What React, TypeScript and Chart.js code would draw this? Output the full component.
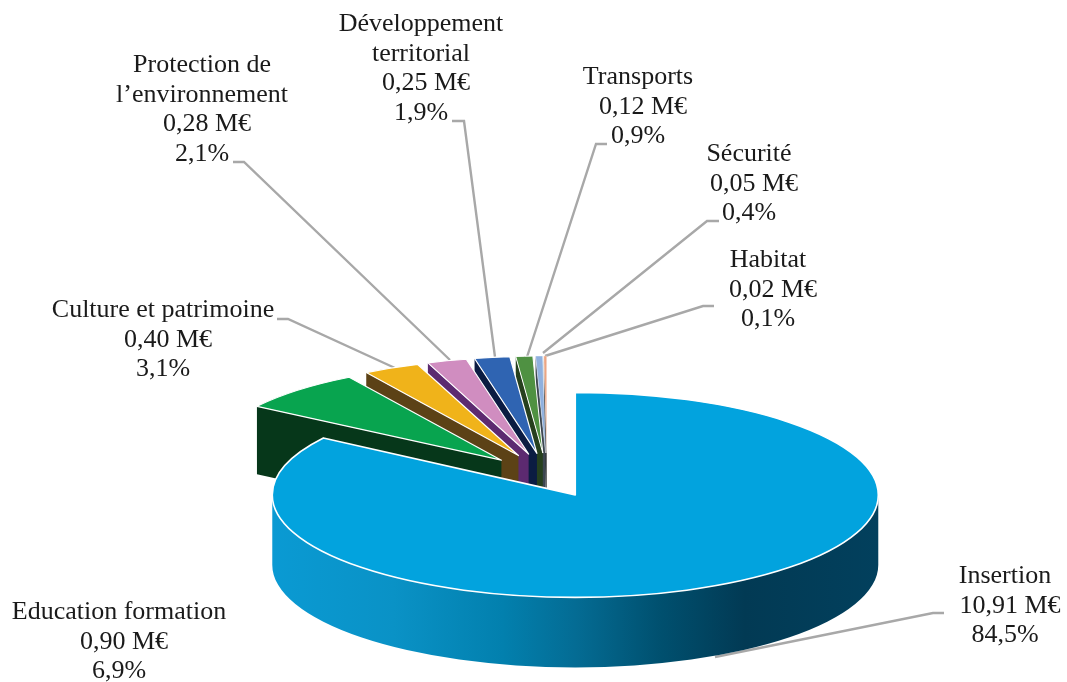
import React, { useEffect, useRef } from "react";
import { Chart, registerables } from "chart.js";

Chart.register(...registerables);

// ---- data ----
const categories = ["Insertion", "Education formation", "Culture et patrimoine", "Protection de l’environnement", "Développement territorial", "Transports", "Sécurité", "Habitat"];
const valuesMEuro = [10.91, 0.9, 0.4, 0.28, 0.25, 0.12, 0.05, 0.02];
const amountLabels = ["10,91 M€", "0,90 M€", "0,40 M€", "0,28 M€", "0,25 M€", "0,12 M€", "0,05 M€", "0,02 M€"];
const percentLabels = ["84,5%", "6,9%", "3,1%", "2,1%", "1,9%", "0,9%", "0,4%", "0,1%"];
const nameLines = [["Insertion"], ["Education formation"], ["Culture et patrimoine"], ["Protection de", "l’environnement"], ["Développement", "territorial"], ["Transports"], ["Sécurité"], ["Habitat"]];

// ---- styles ----
const faceColors = ["#02a3de", "#08a44f", "#f0b31a", "#d08dc0", "#2f64b2", "#4f9142", "#8fb0de", "#eba583"];
const sideColors = ["#02405d", "#06371a", "#5c4216", "#5c2a70", "#0b1c42", "#26401e", "#3c4650", "#2e2e2e"];
const insertionSideStops: [number, string][] = [[0, "#0a9ad3"], [0.2, "#0a92c6"], [0.38, "#0280ae"], [0.5, "#046c94"], [0.64, "#00506f"], [0.78, "#023a54"], [1, "#02405d"]];
const rimWidths = [1.6, 1.2, 1.2, 1.2, 1.2, 1, 0.4, 0.3];

// ---- 3D layout ----
const pieOrigin = { x: 547, y: 479 };
const explodeX = [60, 66, 66, 66, 66, 66, 66, 66];
const explodeY = [18, 26, 26, 26, 26, 26, 26, 26];
const radiusX = [303, 294, 294, 294, 294, 294, 294, 294];
const radiusY = [102.5, 97, 97, 97, 97, 97, 97, 97];
const depth = [70, 68, 68, 68, 68, 68, 68, 68];

// ---- labels: centre x, first line y ----
const labelX = [1005, 119, 163, 202, 421, 638, 749, 768];
const labelY = [576, 612, 310, 65, 24, 77, 154, 260];
const lineGap = 29.8;
const amountShift = 5;
const leaders: [number, number][][] = [
  [[944, 613], [933, 613], [715, 657]],
  [],
  [[277, 319], [288, 319], [395, 368]],
  [[233, 162], [244, 162], [450, 360]],
  [[452, 121], [464, 121], [495, 357]],
  [[607, 144], [596, 144], [527, 357]],
  [[719, 221], [707, 221], [543, 353]],
  [[714, 306], [703, 306], [545, 356]],
];

function geometry(arc: any, i: number) {
  const mid = (arc.startAngle + arc.endAngle) / 2;
  return {
    cx: pieOrigin.x + explodeX[i] * Math.cos(mid),
    cy: pieOrigin.y + explodeY[i] * Math.sin(mid),
    rx: radiusX[i],
    ry: radiusY[i],
    d: depth[i],
  };
}

const pie3d = {
  id: "pie3d",
  beforeDatasetsDraw(chart: any) {
    const ctx: CanvasRenderingContext2D = chart.ctx;
    const arcs = chart.getDatasetMeta(0).data;

    ctx.save();
    ctx.strokeStyle = "#a8a8a8";
    ctx.lineWidth = 2.4;
    leaders.forEach((pts) => {
      if (!pts.length) return;
      ctx.beginPath();
      pts.forEach(([x, y], k) => (k ? ctx.lineTo(x, y) : ctx.moveTo(x, y)));
      ctx.stroke();
    });
    ctx.restore();

    for (let i = arcs.length - 1; i >= 0; i--) {
      const arc = arcs[i];
      const { cx, cy, rx, ry, d } = geometry(arc, i);
      const a0 = arc.startAngle;
      const a1 = arc.endAngle;

      ctx.save();
      if (i === 0) {
        // rounded front wall of the large slice
        const g = ctx.createLinearGradient(cx - rx, 0, cx + rx, 0);
        insertionSideStops.forEach(([p, c]) => g.addColorStop(p, c));
        ctx.fillStyle = g;
        ctx.beginPath();
        ctx.ellipse(cx, cy, rx, ry, 0, 0, Math.PI, false);
        ctx.lineTo(cx - rx, cy + d);
        ctx.ellipse(cx, cy + d, rx, ry, 0, Math.PI, 0, true);
        ctx.closePath();
        ctx.fill();
      } else {
        // cut wall seen along the slice's left edge
        const ex = cx + rx * Math.cos(a0);
        const ey = cy + ry * Math.sin(a0);
        ctx.fillStyle = sideColors[i];
        ctx.beginPath();
        ctx.moveTo(cx, cy);
        ctx.lineTo(ex, ey);
        ctx.lineTo(ex, ey + d);
        ctx.lineTo(cx, cy + d);
        ctx.closePath();
        ctx.fill();
      }
      ctx.restore();

      // top face, drawn by the library's arc element
      ctx.save();
      ctx.translate(cx, cy);
      ctx.scale(rx / arc.outerRadius, ry / arc.outerRadius);
      ctx.translate(-arc.x, -arc.y);
      arc.draw(ctx);
      ctx.restore();

      // white rim
      ctx.save();
      ctx.strokeStyle = "#ffffff";
      ctx.lineWidth = rimWidths[i];
      ctx.lineJoin = "round";
      ctx.beginPath();
      ctx.moveTo(cx, cy);
      ctx.ellipse(cx, cy, rx, ry, 0, a0, a1, false);
      ctx.closePath();
      ctx.stroke();
      ctx.restore();
    }
    return false;
  },
  afterDraw(chart: any) {
    const ctx: CanvasRenderingContext2D = chart.ctx;
    ctx.save();
    ctx.font = '26px "Liberation Serif"';
    ctx.fillStyle = "#1a1a1a";
    ctx.textAlign = "center";
    ctx.textBaseline = "middle";
    categories.forEach((_, i) => {
      let y = labelY[i];
      nameLines[i].forEach((line) => {
        ctx.fillText(line, labelX[i], y);
        y += lineGap;
      });
      ctx.fillText(amountLabels[i], labelX[i] + amountShift, y);
      y += lineGap;
      ctx.fillText(percentLabels[i], labelX[i], y);
    });
    ctx.restore();
  },
};

export default function App() {
  const ref = useRef<HTMLCanvasElement | null>(null);
  useEffect(() => {
    const chart = new Chart(ref.current as HTMLCanvasElement, {
      type: "pie",
      data: {
        labels: categories,
        datasets: [{ data: valuesMEuro, backgroundColor: faceColors, borderWidth: 0, hoverOffset: 0 }],
      },
      options: {
        responsive: false,
        animation: false,
        events: [],
        layout: { padding: 0 },
        plugins: { legend: { display: false }, tooltip: { enabled: false } },
      },
      plugins: [pie3d],
    } as any);
    return () => chart.destroy();
  }, []);
  return (
    <div style={{ position: "absolute", left: 0, top: 0, width: 1067, height: 682, background: "#ffffff", overflow: "hidden" }}>
      <canvas ref={ref} width={1067} height={682} style={{ display: "block" }} />
    </div>
  );
}
